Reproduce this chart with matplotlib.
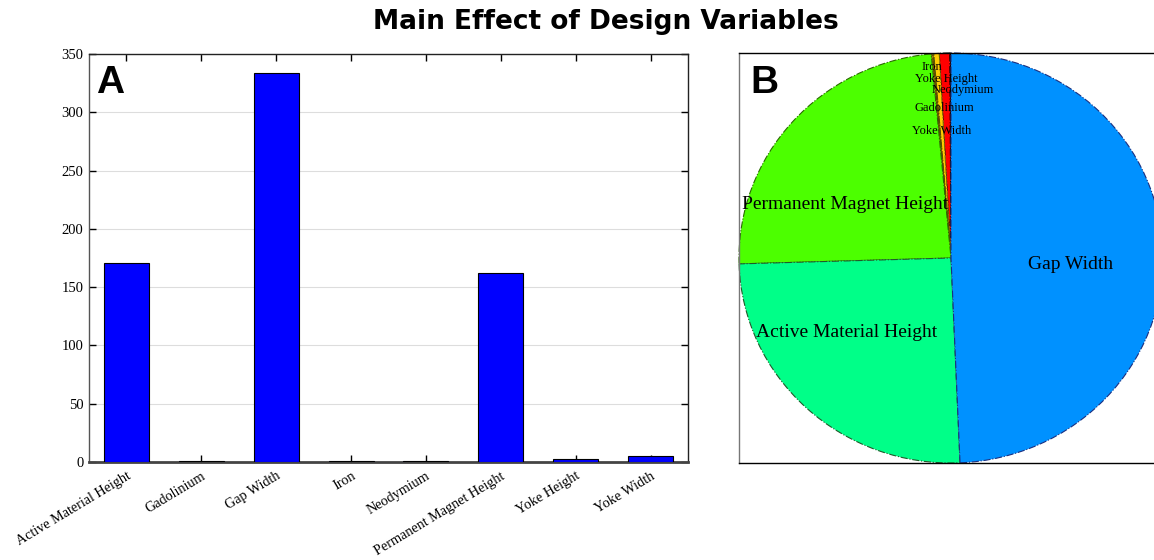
import numpy as np
import matplotlib
matplotlib.use('Agg')
import matplotlib.pyplot as plt

# dados
categorias = ['Active Material Height', 'Gadolinium', 'Gap Width', 'Iron',
              'Neodymium', 'Permanent Magnet Height', 'Yoke Height', 'Yoke Width']
efeito = [170.7, 0.7, 333.8, 0.6, 0.6, 162.2, 2.8, 5.4]

# ordem das fatias na pizza (sentido anti-horario a partir do topo)
ordem_pizza = ['Neodymium', 'Yoke Width', 'Yoke Height', 'Iron', 'Gadolinium',
               'Permanent Magnet Height', 'Active Material Height', 'Gap Width']
cores_pizza = ['#7a0000', '#ff0000', '#ffcc00', '#8a8a00', '#c08000',
               '#4cff00', '#00ff88', '#0091ff']
bordas_pizza = ['#000000', '#000000', '#806600', '#555500', '#604000',
                '#2a6a00', '#1f5a2a', '#1a2f80']
# posicao dos rotulos (coordenadas do eixo da pizza)
pos_rotulos = {'Gap Width': (0.566, -0.034),
               'Active Material Height': (-0.491, -0.361),
               'Permanent Magnet Height': (-0.500, 0.263),
               'Iron': (-0.090, 0.932),
               'Yoke Height': (-0.024, 0.873),
               'Neodymium': (0.057, 0.820),
               'Gadolinium': (-0.033, 0.732),
               'Yoke Width': (-0.042, 0.620)}
tam_rotulos = {'Gap Width': 14, 'Active Material Height': 14,
               'Permanent Magnet Height': 14}

serif = ['Liberation Serif', 'DejaVu Serif']
sans = ['Liberation Sans', 'DejaVu Sans']

fig = plt.figure(figsize=(11.54, 5.60), dpi=100)
fig.text(0.525, 0.961, 'Main Effect of Design Variables', ha='center', va='center',
         fontsize=19, fontweight='bold', family=['DejaVu Sans'])

# ---- A: barras ----
ax1 = fig.add_axes([89/1154, 1-462/560, 599/1154, 408/560])
x = np.arange(len(categorias))
ax1.bar(x, efeito, width=0.6, color='#0000ff', edgecolor='black', linewidth=0.8, zorder=3)
ax1.set_xlim(-0.5, len(categorias) - 0.5)
ax1.set_ylim(0, 350)
ax1.set_yticks(np.arange(0, 351, 50))
ax1.set_xticks(x)
ax1.set_xticklabels(categorias, rotation=31, ha='right', va='top',
                    rotation_mode='anchor', family=serif, fontsize=10.2)
for lab in ax1.get_yticklabels():
    lab.set_family(serif)
    lab.set_fontsize(10.5)
ax1.tick_params(direction='in', top=True, right=True, length=5, width=1, pad=4)
ax1.tick_params(axis='x', pad=5.5)
ax1.grid(axis='y', color='#dddddd', linewidth=0.8, zorder=0)
for s in ax1.spines.values():
    s.set_color('#222222')
    s.set_linewidth(1)
ax1.spines['bottom'].set_linewidth(2)
ax1.spines['bottom'].set_color('#444444')
ax1.spines['left'].set_color('#555555')
ax1.text(0.012, 0.904, 'A', transform=ax1.transAxes, fontsize=28,
         fontweight='bold', family=sans, ha='left', va='baseline')

# ---- B: pizza ----
ax2 = fig.add_axes([739/1154, 1-463/560, 424/1154, 410/560])
valores_pizza = [efeito[categorias.index(c)] for c in ordem_pizza]
fatias, _ = ax2.pie(valores_pizza, colors=cores_pizza, startangle=90,
                    counterclock=True, frame=True,
                    wedgeprops=dict(linewidth=0.8, linestyle='-.'))
for w, bc in zip(fatias, bordas_pizza):
    w.set_edgecolor(bc)
ax2.set_aspect('auto')
ax2.set_xlim(-1, 1)
ax2.set_ylim(-1, 1)
ax2.set_xticks([])
ax2.set_yticks([])
for s in ax2.spines.values():
    s.set_color('black')
    s.set_linewidth(1)
ax2.spines['left'].set_color('#777777')
for c in ordem_pizza:
    px, py = pos_rotulos[c]
    ax2.text(px, py, c, ha='center', va='center', family=serif,
             fontsize=tam_rotulos.get(c, 9))
ax2.text(0.028, 0.902, 'B', transform=ax2.transAxes, fontsize=28,
         fontweight='bold', family=sans, ha='left', va='baseline')

fig.savefig('out.png', dpi=100)
